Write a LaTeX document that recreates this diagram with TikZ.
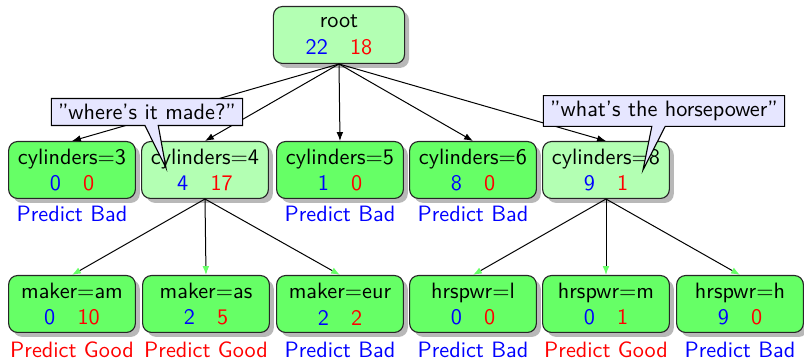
\documentclass[tikz,border=0pt]{standalone}
\usetikzlibrary{shapes.callouts,shadows,arrows.meta}
\renewcommand\familydefault{\sfdefault}
\definecolor{leafgreen}{RGB}{102,255,102}
\definecolor{splitgreen}{RGB}{179,255,179}
\definecolor{notefill}{RGB}{230,230,255}
\tikzset{
  treebox/.style={draw=black!85, line width=0.5pt, rounded corners=4pt,
    align=center, minimum width=57pt, minimum height=25.6pt,
    inner xsep=3pt, inner ysep=2pt,
    drop shadow={shadow xshift=2pt, shadow yshift=-2pt, fill=black!35, opacity=0.8}},
  leafbox/.style={treebox, fill=leafgreen},
  splitbox/.style={treebox, fill=splitgreen},
  bad/.style={text=blue},
  good/.style={text=red},
  edge1/.style={-{Latex[length=4pt,width=3pt]}, line width=0.45pt},
  edge2/.style={-{Latex[length=4pt,width=3pt,fill=leafgreen,color=leafgreen]}, line width=0.45pt},
  note/.style={rectangle callout, draw=black, line width=0.5pt, fill=notefill,
    inner xsep=3pt, inner ysep=2.5pt, callout pointer width=6pt}
}
\newcommand\counts[2]{\textcolor{blue}{#1}\quad\textcolor{red}{#2}}
\begin{document}
\begin{tikzpicture}[x=0.45pt, y=-0.45pt]
\useasboundingbox (0,0) rectangle (804,360);

% root and first split
\node[splitbox, minimum width=59pt] (root) at (339,35) {root\\\counts{22}{18}};
\node[leafbox]  (c3) at (72,170)  {cylinders=3\\\counts{0}{0}};
\node[splitbox] (c4) at (205,170) {cylinders=4\\\counts{4}{17}};
\node[leafbox]  (c5) at (340,170) {cylinders=5\\\counts{1}{0}};
\node[leafbox]  (c6) at (473,170) {cylinders=6\\\counts{8}{0}};
\node[splitbox] (c8) at (606,170) {cylinders=8\\\counts{9}{1}};

% second level
\node[leafbox] (mam) at (72,304)  {maker=am\\\counts{0}{10}};
\node[leafbox] (mas) at (206,304) {maker=as\\\counts{2}{5}};
\node[leafbox] (meu) at (340,304) {maker=eur\\\counts{2}{2}};
\node[leafbox] (hl)  at (473,304) {hrspwr=l\\\counts{0}{0}};
\node[leafbox] (hm)  at (606,304) {hrspwr=m\\\counts{0}{1}};
\node[leafbox] (hh)  at (740,304) {hrspwr=h\\\counts{9}{0}};

% predictions
\node[bad]  (p3)  at (72,214)  {Predict Bad};
\node[bad]  (p5)  at (340,214) {Predict Bad};
\node[bad]  (p6)  at (473,214) {Predict Bad};
\node[good] (pam) at (72,350)  {Predict Good};
\node[good] (pas) at (206,350) {Predict Good};
\node[bad]  (peu) at (340,350) {Predict Bad};
\node[bad]  (pl)  at (473,350) {Predict Bad};
\node[good] (pm)  at (606,350) {Predict Good};
\node[bad]  (ph)  at (740,350) {Predict Bad};

% edges
\foreach \c in {c3,c4,c5,c6,c8} \draw[edge1] (root.south) -- (\c.north);
\foreach \c in {mam,mas,meu} \draw[edge2] (c4.south) -- (\c.north);
\foreach \c in {hl,hm,hh} \draw[edge2] (c8.south) -- (\c.north);

% annotations
\coordinate (tip4) at (166,168);
\coordinate (tip8) at (643,170);
\node[note, callout absolute pointer={(tip4)}] (q4) at (147,112) {"where's it made?''};
\node[note, callout absolute pointer={(tip8)}] (q8) at (664,111) {"what's the horsepower''};
\end{tikzpicture}
\end{document}
